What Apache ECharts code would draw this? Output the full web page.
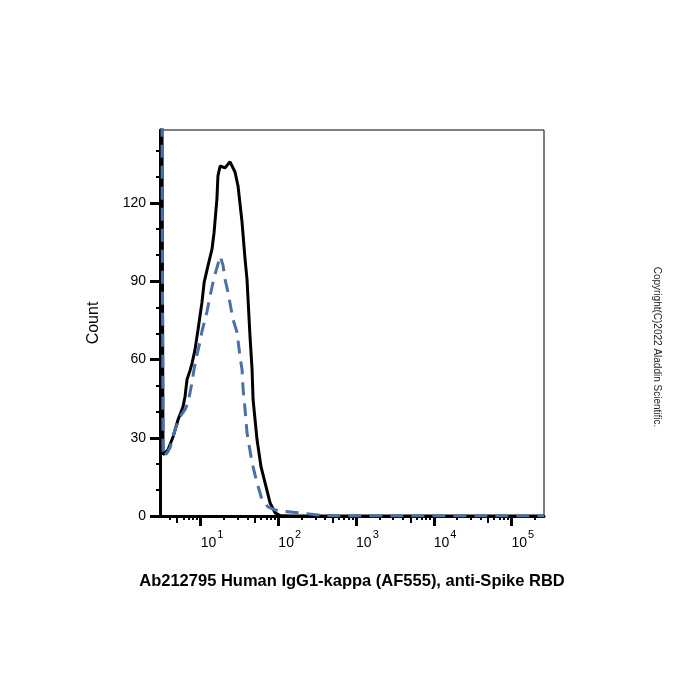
<!DOCTYPE html>
<html>
<head>
<meta charset="utf-8">
<script src="https://cdn.jsdelivr.net/npm/echarts@6/dist/echarts.min.js"></script>
<style>
  html, body { margin: 0; padding: 0; background: #fff; }
  #chart { width: 700px; height: 700px; }
</style>
</head>
<body>
<div id="chart"></div>
<script>
// x range of the log axis (fluorescence)
var xMin = 3, xMax = 262144;
var yMax = 148;

var yTicks = [0, 30, 60, 90, 120];
var yMinorTicks = [10, 20, 40, 50, 70, 80, 100, 110, 130, 140];
var xDecades = [10, 100, 1000, 10000, 100000];
var xHalfTicks = [5, 50, 500, 5000, 50000];
var xMinorTicks = [4, 6, 7, 8, 9,
  20, 30, 40, 60, 70, 80, 90,
  200, 300, 400, 600, 700, 800, 900,
  2000, 3000, 4000, 6000, 7000, 8000, 9000,
  20000, 30000, 40000, 60000, 70000, 80000, 90000, 200000];

// solid black histogram
var solidX = [3, 3.28, 3.38, 3.8, 4.42, 5.12, 5.93, 6.3, 6.68, 7.31, 7.75, 8.47, 9.26,
  10.4, 11.1, 12.4, 14.0, 14.9, 16.2, 16.7, 17.8, 20.6, 23.9, 27.7, 30.3, 34.1, 37.3,
  39.5, 43.2, 45.9, 47.3, 53.2, 59.9, 67.5, 78.3, 90.9, 105, 150, 1000, 262144];
var solidCount = [400, 23.5, 23.8, 25.4, 30.4, 36.9, 41.9, 45.8, 52.3, 55.8, 58.5, 63.8, 71.5,
  81.9, 89.6, 95.8, 102.3, 108.8, 121.5, 130.4, 134.2, 133.5, 135.8, 131.9, 126.5, 112.7, 98.5,
  90.8, 68.8, 56.2, 44.6, 29.2, 18.8, 12.7, 5.0, 1.2, 0.2, 0, 0, 0];

// dashed blue histogram
var dashedX = [3, 3.28, 3.48, 3.7, 4.04, 4.69, 4.97, 5.43, 6.3, 6.89, 7.75, 8.22, 8.99, 9.83,
  10.4, 12.1, 13.2, 14.9, 16.3, 17.8, 19.4, 20.6, 22.5, 26.1, 29.4, 32.1, 34.1, 35.2, 37.3,
  39.5, 45.9, 53.2, 61.7, 73.6, 90.8, 105, 190, 324, 600, 262144];
var dashedCount = [400, 22.7, 22.7, 24.2, 26.2, 33.1, 33.8, 38.1, 40.8, 43.5, 51.2, 56.2, 61.9, 66.9,
  70.8, 78.5, 84.2, 91.5, 95.4, 99.6, 96.2, 90.8, 85.8, 75.4, 70.4, 61.2, 56.2, 48.5, 40.8,
  31.9, 20.4, 12.7, 6.2, 3.5, 2.3, 1.9, 1.2, 0.4, 0, 0];

function lg(v) { return Math.log10(v); }
function pairs(xs, ys) {
  return xs.map(function (x, i) { return [lg(x), ys[i]]; });
}

var chart = echarts.init(document.getElementById('chart'));
var font = 'Liberation Sans, Arial, sans-serif';

var hiddenX = function (vals, len) {
  return {
    type: 'value', min: lg(xMin), max: lg(xMax), position: 'bottom',
    axisLine: { show: false },
    axisTick: { show: true, customValues: vals.map(lg), length: len, lineStyle: { color: '#000', width: 2 } },
    axisLabel: { show: false },
    splitLine: { show: false }
  };
};

var option = {
  animation: false,
  backgroundColor: '#fff',
  grid: {
    left: 160, top: 130, width: 384, height: 386,
    show: true, borderColor: '#000', borderWidth: 1, backgroundColor: 'transparent'
  },
  graphic: [{
    type: 'text',
    x: 657, y: 347,
    rotation: -Math.PI / 2,
    style: {
      text: 'Copyright(C)2022 Aladdin Scientific.',
      fontFamily: font, fontSize: 10, fill: '#222',
      align: 'center', verticalAlign: 'middle'
    }
  }],
  xAxis: [
    {
      type: 'value', min: lg(xMin), max: lg(xMax), position: 'bottom',
      name: 'Ab212795 Human IgG1-kappa (AF555), anti-Spike RBD',
      nameLocation: 'middle', nameGap: 57,
      nameTextStyle: { fontFamily: font, fontSize: 16.5, fontWeight: 'bold', color: '#000' },
      axisLine: { show: true, lineStyle: { color: '#000', width: 3 } },
      axisTick: { show: true, customValues: xDecades.map(lg), length: 10, lineStyle: { color: '#000', width: 3 } },
      axisLabel: {
        customValues: xDecades.map(lg),
        align: 'left', margin: 12,
        formatter: function (v) { return '{a|10}{b|' + Math.round(v) + '}'; },
        rich: {
          a: { fontFamily: font, fontSize: 14, color: '#000', padding: [8, 0, 0, 0] },
          b: { fontFamily: font, fontSize: 11, color: '#000', padding: [0, 0, 8, 1] }
        }
      },
      splitLine: { show: false }
    },
    hiddenX(xHalfTicks, 7),
    hiddenX(xMinorTicks, 4)
  ],
  yAxis: [
    {
      type: 'value', min: 0, max: yMax,
      name: 'Count', nameLocation: 'middle', nameGap: 58,
      nameTextStyle: { fontFamily: font, fontSize: 16, color: '#000' },
      axisLine: { show: true, lineStyle: { color: '#000', width: 3 } },
      axisTick: { show: true, customValues: yTicks, length: 10, lineStyle: { color: '#000', width: 3 } },
      axisLabel: { customValues: yTicks, margin: 14, fontFamily: font, fontSize: 14, color: '#000' },
      splitLine: { show: false }
    },
    {
      type: 'value', min: 0, max: yMax, position: 'left',
      axisLine: { show: false },
      axisTick: { show: true, customValues: yMinorTicks, length: 4, lineStyle: { color: '#000', width: 2 } },
      axisLabel: { show: false },
      splitLine: { show: false }
    }
  ],
  series: [
    {
      type: 'line', xAxisIndex: 0, yAxisIndex: 0,
      data: pairs(solidX, solidCount),
      showSymbol: false, symbol: 'none', clip: true,
      lineStyle: { color: '#000', width: 3 }
    },
    {
      type: 'line', xAxisIndex: 0, yAxisIndex: 0,
      data: pairs(dashedX, dashedCount),
      showSymbol: false, symbol: 'none', clip: true,
      lineStyle: { color: '#4a70a6', width: 3, type: [13, 8] }
    }
  ]
};
chart.setOption(option);
</script>
</body>
</html>
